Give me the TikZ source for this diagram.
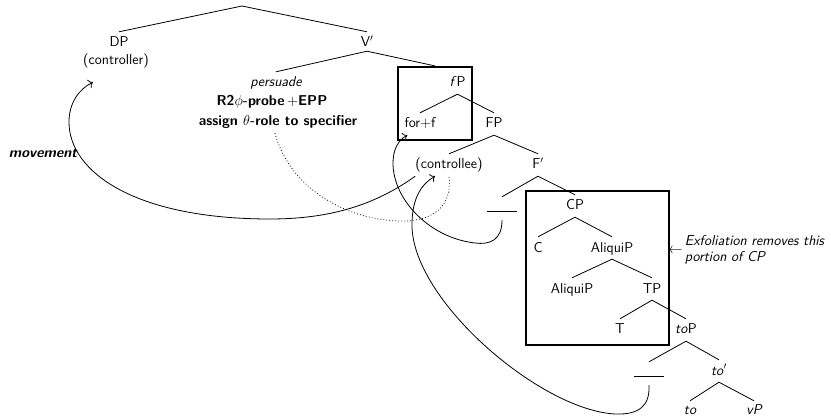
\documentclass[tikz,border=0pt]{standalone}
\usetikzlibrary{arrows.meta}
\begin{document}
\begin{tikzpicture}[x=1pt,y=1pt,
  every node/.style={font=\fontsize{14.3}{16}\selectfont\sffamily},
  lbl/.style={inner sep=0pt, anchor=base, text height=15pt, text depth=7pt},
  bld/.style={lbl, font=\fontsize{14.3}{16}\selectfont\sffamily\bfseries},
  itl/.style={lbl, font=\fontsize{14.3}{16}\selectfont\sffamily\itshape},
  branch/.style={line width=0.8pt},
  frame/.style={draw, line width=2.2pt, inner sep=0pt},
  move/.style={line width=0.8pt, -{Computer Modern Rightarrow[scale=1.3]}},
  agree/.style={line width=0.8pt, dash pattern=on 0.8pt off 2.2pt}
]
\useasboundingbox (0,0) rectangle (831,-417);

% upper part of the tree
\coordinate (root) at (242,-6);
\node[lbl] (DP) at (119,-47) {DP};
\node[lbl] (ctrlr) at (116,-65) {(controller)};
\node[lbl, text depth=4pt] (Vbar) at (367,-47) {V$'$};
\node[itl] (persuade) at (276,-87) {persuade};
\node[bld] (probe) at (272,-106) {R2$\phi$-probe\,$+$EPP};
\node[bld] (assign) at (278,-126) {assign $\theta$-role to specifier};

% fP and its frame
\node[lbl] (fP) at (457.5,-87) {\textit{f}P};
\node[lbl] (forf) at (420,-128) {for+f};
\node[frame, minimum width=74pt, minimum height=73pt] (box1) at (435,-103.5) {};

\node[lbl] (FP) at (494,-128) {FP};
\node[lbl] (ctrlee) at (449,-169) {(controllee)};
\node[lbl] (Fbar) at (538,-169) {F$'$};
\node[lbl] (blank1) at (502,-212) {\rule{30pt}{0.9pt}};

% CP and the exfoliated portion
\node[lbl] (CP) at (575,-210) {CP};
\node[lbl] (C) at (538,-252) {C};
\node[lbl] (aliqA) at (612,-252) {AliquiP};
\node[lbl] (aliqB) at (572,-293) {AliquiP};
\node[lbl] (TP) at (652,-293) {TP};
\node[lbl] (T) at (620,-334) {T};
\node[frame, minimum width=143pt, minimum height=154pt] (box2) at (597.5,-268) {};
\node[inner sep=0pt, anchor=west] (exfol) at (668,-250)
  {$\leftarrow$\,\begin{tabular}[c]{@{}l@{}}\itshape Exfoliation removes this\\ \itshape portion of CP\end{tabular}};

% lower part
\node[lbl] (toP) at (686,-334) {\textit{to}P};
\node[lbl] (blank2) at (649,-377) {\rule{30pt}{0.9pt}};
\node[lbl] (tobar) at (719,-375) {\textit{to}$'$};
\node[itl, text height=13pt] (to) at (690,-414) {to};
\node[itl, text height=13pt] (vP) at (754,-414) {vP};

\node[lbl, font=\fontsize{14.3}{16}\selectfont\sffamily\bfseries\itshape] (movement) at (43,-158) {movement};

% branches
\draw[branch] (DP.north) -- (root) -- (Vbar.north);
\draw[branch] (persuade.north) -- (Vbar.south) -- (box1.north);
\draw[branch] (forf.north) -- (fP.south) -- (FP.north);
\draw[branch] (ctrlee.north) -- (FP.south) -- (Fbar.north);
\draw[branch] (blank1.north) -- (Fbar.south) -- (CP.north);
\draw[branch] (C.north) -- (CP.south) -- (aliqA.north);
\draw[branch] (aliqB.north) -- (aliqA.south) -- (TP.north);
\draw[branch] (T.north) -- (TP.south) -- (toP.north);
\draw[branch] (blank2.north) -- (toP.south) -- (tobar.north);
\draw[branch] (to.north) -- (tobar.south) -- (vP.north);

% movement of the controllee to the controller position
\draw[move] (ctrlee.south west)
  .. controls (375,-205) and (330,-219) .. (270,-219)
  .. controls (135,-219) and (69,-172) .. (69,-122)
  .. controls (69,-103) and (79,-89) .. ([shift={(10,-10)}]ctrlr.south west);

% theta-role assignment
\draw[agree] ([xshift=-3pt]assign.south)
  .. controls (290,-190) and (350,-222) .. (405,-221)
  .. controls (440,-220) and (452,-200) .. (ctrlee.south);

% movements from the vacated positions
\draw[move] ([yshift=-1pt]blank1.south)
  .. controls (502,-240) and (490,-245) .. (475,-243)
  .. controls (430,-238) and (393,-200) .. (393,-163)
  .. controls (393,-150) and (398,-140) .. ([xshift=3pt]forf.south west);
\draw[move] ([yshift=-1pt]blank2.south)
  .. controls (650,-405) and (640,-415) .. (615,-414)
  .. controls (540,-410) and (412,-300) .. (412,-225)
  .. controls (412,-200) and (420,-185) .. ([xshift=-14pt]ctrlee.south);
\end{tikzpicture}
\end{document}
